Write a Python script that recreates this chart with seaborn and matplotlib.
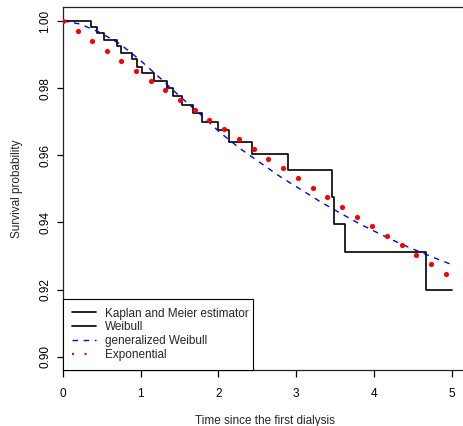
#!/usr/bin/env python3
"""Survival curves since the first dialysis: KM estimate vs parametric fits."""

import matplotlib
matplotlib.use("Agg")
import matplotlib.pyplot as plt
from matplotlib.lines import Line2D
import pandas as pd
import seaborn as sns

# --- Data ---
km_time = [0.0, 0.356, 0.434, 0.531, 0.691, 0.742, 0.884, 0.948, 1.012, 1.171,
           1.334, 1.411, 1.527, 1.676, 1.792, 1.998, 2.139, 2.435, 2.890, 3.464,
           3.486, 3.627, 4.666, 5.008]
km_surv = [1.0, 0.99812, 0.99634, 0.99434, 0.99255, 0.99056, 0.98859, 0.98639,
           0.98442, 0.98222, 0.97995, 0.97766, 0.97498, 0.97251, 0.97000, 0.96744,
           0.96404, 0.96029, 0.95561, 0.94766, 0.93953, 0.93128, 0.91987, 0.91987]

gw_time = [0.0, 0.219, 0.476, 0.733, 0.990, 1.248, 1.505, 1.762, 2.020, 2.277,
           2.534, 2.791, 3.049, 3.306, 3.563, 3.820, 4.078, 4.335, 4.592, 4.849, 5.0]
gw_surv = [1.0, 0.99911, 0.99657, 0.99315, 0.98838, 0.98302, 0.97751, 0.97230,
           0.96679, 0.96202, 0.95785, 0.95368, 0.94996, 0.94623, 0.94281, 0.93953,
           0.93655, 0.93372, 0.93119, 0.92880, 0.92746]

exp_time = [0.0, 0.189, 0.377, 0.562, 0.750, 0.939, 1.128, 1.316, 1.505, 1.694,
            1.882, 2.071, 2.264, 2.453, 2.641, 2.830, 3.019, 3.212, 3.400, 3.593,
            3.782, 3.975, 4.164, 4.357, 4.545, 4.738, 4.931]
exp_surv = [1.0, 0.99702, 0.99404, 0.99106, 0.98808, 0.98520, 0.98222, 0.97936,
            0.97647, 0.97349, 0.97060, 0.96774, 0.96476, 0.96187, 0.95898, 0.95612,
            0.95323, 0.95034, 0.94748, 0.94459, 0.94170, 0.93893, 0.93604, 0.93318,
            0.93038, 0.92752, 0.92472]

y_ticks = [0.90, 0.92, 0.94, 0.96, 0.98, 1.00]
y_tick_labels = ["0.90", "0.92", "0.94", "0.96", "0.98", "1.00"]
x_ticks = [0, 1, 2, 3, 4, 5]

legend_labels = ["Kaplan and Meier estimator", "Weibull",
                 "generalized Weibull", "Exponential"]

FONT = 8.5


def main():
    sns.set_theme(style="white")
    plt.rcParams["font.family"] = ["Liberation Sans", "DejaVu Sans"]
    plt.rcParams["font.size"] = FONT

    km = pd.DataFrame({"time": km_time, "surv": km_surv})
    gw = pd.DataFrame({"time": gw_time, "surv": gw_surv})
    ex = pd.DataFrame({"time": exp_time, "surv": exp_surv})

    fig = plt.figure(figsize=(4.64, 4.26), dpi=100)
    ax = fig.add_axes([63 / 464, 56 / 426, 405 / 464, 363 / 426])

    sns.lineplot(data=km, x="time", y="surv", ax=ax, color="black",
                 linewidth=1.2, drawstyle="steps-post", sort=False,
                 estimator=None)
    sns.lineplot(data=gw, x="time", y="surv", ax=ax, color="blue",
                 linewidth=1.0, dashes=False, sort=False, estimator=None,
                 linestyle=(0, (4, 4)))
    sns.scatterplot(data=ex, x="time", y="surv", ax=ax, color="red",
                    s=14, linewidth=0, zorder=3)

    ax.set_xlim(0, 5.21)
    ax.set_ylim(0.89604, 1.00417)
    ax.set_xticks(x_ticks)
    ax.set_xticklabels([str(t) for t in x_ticks], fontsize=FONT)
    ax.set_yticks(y_ticks)
    ax.set_yticklabels(y_tick_labels, fontsize=FONT, rotation=90, va="center")

    ax.tick_params(axis="x", direction="out", length=5, width=0.9,
                   pad=8, colors="black", bottom=True)
    ax.tick_params(axis="y", direction="out", length=4, width=0.9,
                   pad=4.6, colors="black", left=True)
    for side in ["left", "bottom", "top"]:
        ax.spines[side].set_color("#222222")
        ax.spines[side].set_linewidth(0.9)
    ax.spines["right"].set_visible(False)

    ax.set_xlabel("Time since the first dialysis", fontsize=FONT, labelpad=11)
    ax.set_ylabel("Survival probability", fontsize=FONT, labelpad=11.6)

    handles = [
        Line2D([], [], color="black", linewidth=1.2),
        Line2D([], [], color="black", linewidth=1.2),
        Line2D([], [], color="blue", linewidth=1.0, linestyle=(0, (4, 4))),
        Line2D([], [], color="red", linewidth=1.5, linestyle=(0, (1, 5))),
    ]
    leg = ax.legend(handles, legend_labels, loc="lower left",
                    bbox_to_anchor=(0, 0, 190 / 405, 0.2), mode="expand",
                    borderaxespad=0, fontsize=FONT, handlelength=2.03,
                    handletextpad=0.75, labelspacing=0.15, borderpad=0.77,
                    fancybox=False, framealpha=1, edgecolor="black")
    leg.get_frame().set_linewidth(0.8)

    fig.savefig("out.png", dpi=100)
    plt.close(fig)


if __name__ == "__main__":
    main()
